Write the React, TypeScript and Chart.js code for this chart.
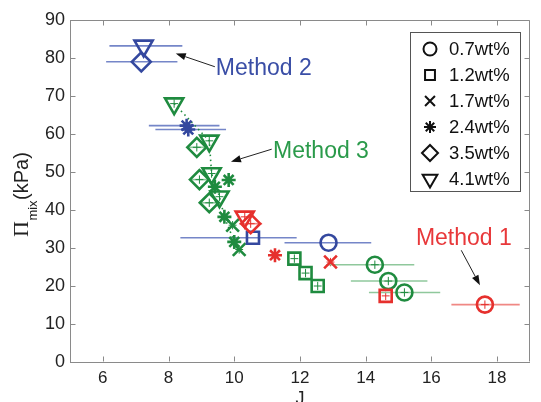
import { useEffect, useRef } from 'react';
import { Chart, registerables } from 'chart.js';
import { drawPoint } from 'chart.js/helpers';
Chart.register(...registerables);

// ---------- data ----------
const xTicks = [6, 8, 10, 12, 14, 16, 18];
const yTicks = [0, 10, 20, 30, 40, 50, 60, 70, 80, 90];
const concLabels = ['0.7wt%', '1.2wt%', '1.7wt%', '2.4wt%', '3.5wt%', '4.1wt%'];
const methodNames = ['Method 1', 'Method 2', 'Method 3'];

// Method 1 (red)
const m1J = [17.63, 14.61, 12.93, 11.24, 10.5, 10.32];
const m1P = [15.1, 17.4, 26.3, 28.1, 36.4, 38.2];
const m1C = [0, 1, 2, 3, 4, 5];
const m1JLo = [16.61, null, null, null, 10.15, null];
const m1JHi = [18.69, null, null, null, 10.85, null];

// Method 2 (blue)
const m2J = [12.87, 10.57, 8.6, 8.55, 7.17, 7.24];
const m2P = [31.4, 32.7, 61.2, 62.2, 79.0, 83.2];
const m2C = [0, 1, 3, 3, 4, 5];
const m2JLo = [11.53, 8.36, 7.6, 7.4, 6.1, 6.2];
const m2JHi = [14.17, 11.9, 9.75, 9.55, 8.27, 8.42];

// Method 3 (green)
const m3J = [14.28, 14.69, 15.18, 11.83, 12.17, 12.54, 9.95, 10.15, 9.41, 9.83, 9.7, 10.0, 8.86, 8.94, 9.24, 8.17, 9.24, 9.31, 9.55];
const m3P = [25.6, 21.3, 18.3, 27.2, 23.4, 20.0, 36.0, 29.6, 46.1, 47.9, 38.2, 31.6, 56.5, 48.0, 41.9, 68.0, 58.2, 49.6, 43.5];
const m3C = [0, 0, 0, 1, 1, 1, 2, 2, 3, 3, 3, 3, 4, 4, 4, 5, 5, 5, 5];
const m3JLo = [12.8, 13.55, 14.1, null, null, null, null, null, null, null, null, null, 8.6, 8.68, 8.98, null, null, null, null];
const m3JHi = [15.48, 15.88, 16.27, null, null, null, null, null, null, null, null, null, 9.12, 9.2, 9.5, null, null, null, null];

// Method 3 dotted trend
const trendJ = [8.17, 9.24, 9.31, 9.55, 9.7, 10.0, 10.15];
const trendP = [68.0, 58.2, 49.6, 43.5, 38.2, 31.6, 29.6];

// small error (shown as "+" inside markers)
const smallPErr = 1.1;
const smallJErr = 0.12;

// ---------- styles ----------
const FONT = '"Liberation Sans", Arial, Helvetica, sans-serif';
const SERIF = '"Liberation Serif", "DejaVu Serif", serif';
const AXIS = '#8a8a8a';
const TXT = '#222';

const methodStyles = [
  { color: '#e6302d', bar: '#f08884', text: '#e8383a', inner: true },
  { color: '#34489f', bar: '#7586c8', text: '#3a4ea6', inner: false },
  { color: '#1f8b3f', bar: '#8fc89c', text: '#2a9a4a', inner: true },
];

const markerStyles = [
  { pointStyle: 'circle', rotation: 0, radius: 8 },
  { pointStyle: 'rect', rotation: 0, radius: 8.5 },
  { pointStyle: 'crossRot', rotation: 0, radius: 9 },
  { pointStyle: 'star', rotation: 0, radius: 7 },
  { pointStyle: 'rectRot', rotation: 0, radius: 9.5 },
  { pointStyle: 'triangle', rotation: 180, radius: 10.5 },
];

const legendMarkers = [
  { pointStyle: 'circle', rotation: 0, radius: 6.5 },
  { pointStyle: 'rect', rotation: 0, radius: 7 },
  { pointStyle: 'crossRot', rotation: 0, radius: 7 },
  { pointStyle: 'star', rotation: 0, radius: 6 },
  { pointStyle: 'rectRot', rotation: 0, radius: 8 },
  { pointStyle: 'triangle', rotation: 180, radius: 8.5 },
];

const notes = [
  { m: 1, tx: 9.44, ty: 75.5, ax0: 9.41, ay0: 77.7, ax1: 8.22, ay1: 81.2 },
  { m: 2, tx: 11.18, ty: 53.6, ax0: 11.14, ay0: 56.0, ax1: 9.9, ay1: 52.7 },
  { m: 0, tx: 15.53, ty: 30.7, ax0: 16.91, ay0: 29.4, ax1: 17.48, ay1: 20.2 },
];

const methods = [
  { J: m1J, P: m1P, C: m1C, lo: m1JLo, hi: m1JHi },
  { J: m2J, P: m2P, C: m2C, lo: m2JLo, hi: m2JHi },
  { J: m3J, P: m3P, C: m3C, lo: m3JLo, hi: m3JHi },
];

function buildDatasets() {
  const ds: any[] = [];
  ds.push({
    type: 'line',
    label: 'trend',
    data: trendJ.map((x, i) => ({ x, y: trendP[i] })),
    borderColor: methodStyles[2].color,
    borderWidth: 1.6,
    borderDash: [1.5, 3.5],
    pointRadius: 0,
    fill: false,
    order: 10,
  });
  methods.forEach((m, mi) => {
    for (let c = 0; c < concLabels.length; c++) {
      const pts: any[] = [];
      m.J.forEach((x, i) => {
        if (m.C[i] === c) pts.push({ x, y: m.P[i], lo: m.lo[i], hi: m.hi[i] });
      });
      if (!pts.length) continue;
      const ms = markerStyles[c];
      ds.push({
        label: methodNames[mi] + ' ' + concLabels[c],
        data: pts,
        methodIndex: mi,
        pointStyle: ms.pointStyle,
        rotation: ms.rotation,
        pointRadius: ms.radius,
        pointHoverRadius: ms.radius,
        borderColor: methodStyles[mi].color,
        backgroundColor: 'rgba(0,0,0,0)',
        pointBorderWidth: 2.6,
        borderWidth: 2.6,
        showLine: false,
        order: 1,
      });
    }
  });
  return ds;
}

const decorPlugin = {
  id: 'decor',
  beforeDatasetsDraw(chart: any) {
    const { ctx, scales } = chart;
    const xs = scales.x, ys = scales.y;
    ctx.save();
    chart.data.datasets.forEach((d: any) => {
      if (d.methodIndex === undefined) return;
      const st = methodStyles[d.methodIndex];
      d.data.forEach((p: any) => {
        const py = ys.getPixelForValue(p.y);
        if (p.lo != null && p.hi != null) {
          ctx.strokeStyle = st.bar;
          ctx.lineWidth = 1.6;
          ctx.beginPath();
          ctx.moveTo(xs.getPixelForValue(p.lo), py);
          ctx.lineTo(xs.getPixelForValue(p.hi), py);
          ctx.stroke();
        }
        if (st.inner) {
          const px = xs.getPixelForValue(p.x);
          ctx.strokeStyle = st.color;
          ctx.lineWidth = 1;
          ctx.beginPath();
          ctx.moveTo(px, ys.getPixelForValue(p.y - smallPErr));
          ctx.lineTo(px, ys.getPixelForValue(p.y + smallPErr));
          ctx.moveTo(xs.getPixelForValue(p.x - smallJErr), py);
          ctx.lineTo(xs.getPixelForValue(p.x + smallJErr), py);
          ctx.stroke();
        }
      });
    });
    ctx.restore();
  },
  afterDraw(chart: any) {
    const { ctx, chartArea: a, scales } = chart;
    const xs = scales.x, ys = scales.y;
    ctx.save();
    // frame top/right + inward ticks
    ctx.strokeStyle = AXIS;
    ctx.lineWidth = 1;
    const L = Math.round(a.left) + 0.5, R = Math.round(a.right) - 0.5;
    const T = Math.round(a.top) + 0.5, B = Math.round(a.bottom) - 0.5;
    ctx.beginPath();
    ctx.moveTo(L, T); ctx.lineTo(R, T); ctx.lineTo(R, B);
    xTicks.forEach((v) => {
      const x = Math.round(xs.getPixelForValue(v)) + 0.5;
      ctx.moveTo(x, B); ctx.lineTo(x, B - 5);
      ctx.moveTo(x, T); ctx.lineTo(x, T + 5);
    });
    yTicks.forEach((v) => {
      const y = Math.round(ys.getPixelForValue(v)) + 0.5;
      ctx.moveTo(L, y); ctx.lineTo(L + 5, y);
      ctx.moveTo(R, y); ctx.lineTo(R - 5, y);
    });
    ctx.stroke();

    // legend box
    const lx = 410.5, ly = 32.5, lw = 110, lh = 159;
    ctx.fillStyle = '#fff';
    ctx.fillRect(lx, ly, lw, lh);
    ctx.strokeStyle = '#555';
    ctx.strokeRect(lx, ly, lw, lh);
    ctx.font = '18.5px ' + FONT;
    ctx.textBaseline = 'middle';
    ctx.textAlign = 'left';
    concLabels.forEach((lab, i) => {
      const y = 49 + i * 26;
      ctx.strokeStyle = '#111';
      ctx.fillStyle = 'rgba(0,0,0,0)';
      ctx.lineWidth = 2;
      drawPoint(ctx, { ...legendMarkers[i], borderWidth: 2 } as any, 430, y);
      ctx.fillStyle = '#111';
      ctx.fillText(lab, 449, y + 1);
    });

    // annotations
    notes.forEach((n) => {
      const st = methodStyles[n.m];
      ctx.font = '23px ' + FONT;
      ctx.textBaseline = 'alphabetic';
      ctx.textAlign = 'left';
      ctx.fillStyle = st.text;
      ctx.fillText(methodNames[n.m], xs.getPixelForValue(n.tx), ys.getPixelForValue(n.ty));
      const x0 = xs.getPixelForValue(n.ax0), y0 = ys.getPixelForValue(n.ay0);
      const x1 = xs.getPixelForValue(n.ax1), y1 = ys.getPixelForValue(n.ay1);
      const ang = Math.atan2(y1 - y0, x1 - x0);
      const hl = 10, hw = 3.6;
      const bx = x1 - Math.cos(ang) * hl, by = y1 - Math.sin(ang) * hl;
      ctx.strokeStyle = '#222';
      ctx.lineWidth = 1;
      ctx.beginPath();
      ctx.moveTo(x0, y0); ctx.lineTo(bx, by);
      ctx.stroke();
      ctx.fillStyle = '#111';
      ctx.beginPath();
      ctx.moveTo(x1, y1);
      ctx.lineTo(bx + Math.sin(ang) * hw, by - Math.cos(ang) * hw);
      ctx.lineTo(bx - Math.sin(ang) * hw, by + Math.cos(ang) * hw);
      ctx.closePath();
      ctx.fill();
    });

    // y title: Π_mix(kPa)
    ctx.fillStyle = TXT;
    ctx.save();
    ctx.translate(28, 237);
    ctx.rotate(-Math.PI / 2);
    ctx.textAlign = 'left';
    ctx.textBaseline = 'alphabetic';
    ctx.font = '22px ' + SERIF;
    ctx.fillText('Π', 0, 0);
    const wPi = ctx.measureText('Π').width;
    ctx.font = '13px ' + FONT;
    ctx.fillText('mix', wPi + 0.5, 9);
    const wMix = ctx.measureText('mix').width;
    ctx.font = '20px ' + FONT;
    ctx.fillText('(kPa)', wPi + wMix + 1, 0);
    ctx.restore();

    // x title
    ctx.font = '18px ' + FONT;
    ctx.textAlign = 'center';
    ctx.textBaseline = 'alphabetic';
    ctx.fillStyle = TXT;
    ctx.fillText('J', (a.left + a.right) / 2, 404);
    ctx.restore();
  },
};

export default function App() {
  const ref = useRef<HTMLCanvasElement | null>(null);
  useEffect(() => {
    if (!ref.current) return;
    const chart = new Chart(ref.current, {
      type: 'scatter',
      data: { datasets: buildDatasets() },
      options: {
        animation: false,
        responsive: false,
        devicePixelRatio: 1,
        layout: { padding: { top: 20, right: 1, left: 0, bottom: 0 } },
        plugins: { legend: { display: false }, tooltip: { enabled: false } },
        scales: {
          x: {
            type: 'linear',
            min: 5,
            max: 19,
            grid: { display: false, drawTicks: false, tickLength: 0 },
            border: { display: true, color: AXIS, width: 1 },
            ticks: { font: { family: FONT, size: 17 }, color: TXT, padding: 6, autoSkip: false, maxRotation: 0 },
            afterBuildTicks: (s: any) => { s.ticks = xTicks.map((v) => ({ value: v })); },
            afterFit: (s: any) => { s.height = 40; s.paddingLeft = 0; s.paddingRight = 0; },
          },
          y: {
            type: 'linear',
            min: 0,
            max: 90,
            grid: { display: false, drawTicks: false, tickLength: 0 },
            border: { display: true, color: AXIS, width: 1 },
            ticks: { font: { family: FONT, size: 18 }, color: TXT, padding: 5, autoSkip: false },
            afterBuildTicks: (s: any) => { s.ticks = yTicks.map((v) => ({ value: v })); },
            afterFit: (s: any) => { s.width = 70; s.paddingTop = 0; s.paddingBottom = 0; },
          },
        },
      } as any,
      plugins: [decorPlugin],
    });
    return () => chart.destroy();
  }, []);
  return (
    <div style={{ position: 'fixed', left: 0, top: 0, width: 541, height: 402, overflow: 'hidden', background: '#fff' }}>
      <canvas ref={ref} width={543} height={402} style={{ display: 'block', width: 543, height: 402 }} />
    </div>
  );
}
